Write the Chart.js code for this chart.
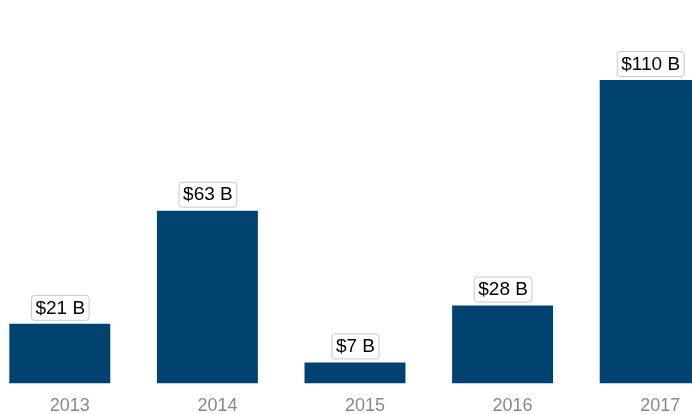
<!DOCTYPE html>
<html>
<head>
<meta charset="utf-8">
<script src="https://cdn.jsdelivr.net/npm/chart.js@4.4.0/dist/chart.umd.min.js"></script>
<style>
  html, body { margin: 0; padding: 0; background: #fff; overflow: hidden; width: 692px; height: 414px; }
  #wrap { position: absolute; left: -14px; top: 0; width: 738px; height: 429px; }
</style>
</head>
<body>
<div id="wrap"><canvas id="chart"></canvas></div>
<script>
// ===============================
// Dados
// ===============================
const years = ["2013", "2014", "2015", "2016", "2017"];
const values = [21.6, 62.6, 7.6, 28.2, 110];
const valueLabels = ["$21 B", "$63 B", "$7 B", "$28 B", "$110 B"];

const FONT = "'Liberation Sans', Arial, Helvetica, sans-serif";

// etiquetas com caixa acima das barras
const boxLabels = {
  id: "boxLabels",
  afterDatasetsDraw(chart) {
    const ctx = chart.ctx;
    const meta = chart.getDatasetMeta(0);
    ctx.save();
    ctx.font = "19px " + FONT;
    ctx.textAlign = "center";
    ctx.textBaseline = "middle";
    meta.data.forEach((bar, i) => {
      const text = valueLabels[i];
      const w = ctx.measureText(text).width + 8;
      const h = 25;
      const x = bar.x - w / 2;
      const y = bar.y - 4 - h;
      ctx.beginPath();
      ctx.roundRect(x + 0.5, y + 0.5, w, h, 3);
      ctx.fillStyle = "#ffffff";
      ctx.fill();
      ctx.strokeStyle = "#c8c8c8";
      ctx.lineWidth = 1;
      ctx.stroke();
      ctx.fillStyle = "#000";
      ctx.fillText(text, bar.x + 0.5, y + h / 2 + 1);
    });
    ctx.restore();
  }
};

new Chart(document.getElementById("chart").getContext("2d"), {
  type: "bar",
  data: {
    labels: years,
    datasets: [{
      data: values,
      backgroundColor: "#004270",
      barPercentage: 0.684,
      categoryPercentage: 1
    }]
  },
  options: {
    responsive: true,
    maintainAspectRatio: false,
    animation: false,
    layout: { padding: 0 },
    plugins: {
      legend: { display: false },
      tooltip: { enabled: false }
    },
    scales: {
      x: {
        grid: { display: false, drawTicks: false },
        border: { display: false },
        ticks: {
          color: "#888",
          padding: 12,
          labelOffset: 10,
          font: { family: FONT, size: 18 }
        }
      },
      y: {
        display: false,
        min: 0,
        max: 139
      }
    }
  },
  plugins: [boxLabels]
});
</script>
</body>
</html>
